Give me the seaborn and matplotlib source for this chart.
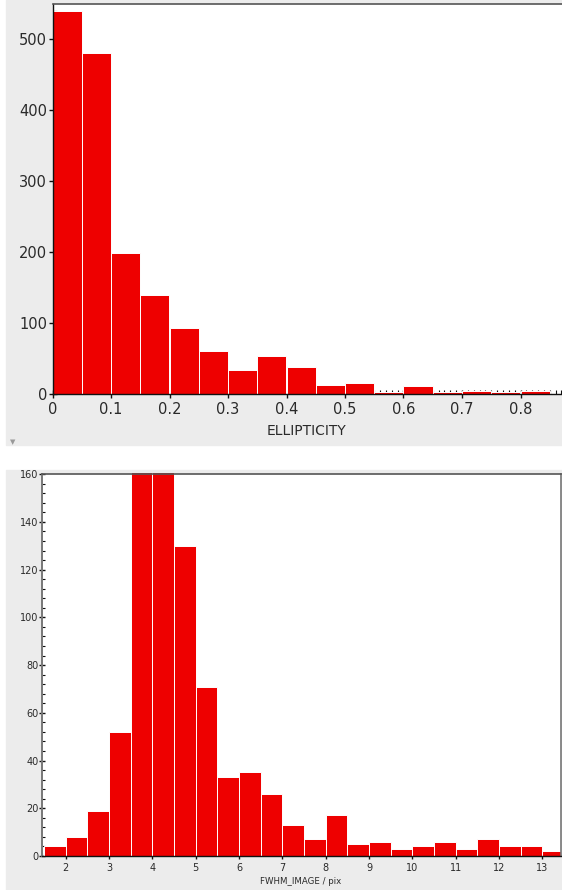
import matplotlib
matplotlib.use("Agg")
import matplotlib.pyplot as plt
from matplotlib.patches import Rectangle
from matplotlib.ticker import MultipleLocator, FixedLocator, FixedFormatter
import seaborn as sns

# Ellipticity histogram (bin width 0.05)
ellip_bin_left = [0.00, 0.05, 0.10, 0.15, 0.20, 0.25, 0.30, 0.35, 0.40,
                  0.45, 0.50, 0.55, 0.60, 0.65, 0.70, 0.75, 0.80]
ellip_counts = [540, 481, 199, 139, 93, 61, 34, 53, 38,
                13, 15, 3, 11, 3, 4, 3, 4]
ellip_ticks = [0.0, 0.1, 0.2, 0.3, 0.4, 0.5, 0.6, 0.7, 0.8]
ellip_tick_labels = ["0", "0.1", "0.2", "0.3", "0.4", "0.5", "0.6", "0.7", "0.8"]
ellip_yticks = [0, 100, 200, 300, 400, 500]

# FWHM histogram (bin width 0.5 pix)
fwhm_bin_left = [1.5, 2.0, 2.5, 3.0, 3.5, 4.0, 4.5, 5.0, 5.5, 6.0, 6.5, 7.0,
                 7.5, 8.0, 8.5, 9.0, 9.5, 10.0, 10.5, 11.0, 11.5, 12.0, 12.5, 13.0]
fwhm_counts = [4, 8, 19, 52, 205, 190, 130, 71, 33, 35, 26, 13,
               7, 17, 5, 6, 3, 4, 6, 3, 7, 4, 4, 2]
fwhm_ticks = [2, 3, 4, 5, 6, 7, 8, 9, 10, 11, 12, 13]
fwhm_yticks = [0, 20, 40, 60, 80, 100, 120, 140, 160]

BAR = "#ee0000"
PANEL = "#ececec"
INK = "#2a2a2a"

sns.set_style("ticks")
plt.rcParams["font.family"] = ["DejaVu Sans"]

W, H = 562, 890
fig = plt.figure(figsize=(W / 100, H / 100), dpi=100, facecolor="white")


def px_box(left, top, right, bottom):
    return [left / W, 1 - bottom / H, (right - left) / W, (bottom - top) / H]


# grey window panels behind each plot
fig.patches.append(Rectangle((5.5 / W, 1 - 445 / H), (W - 5.5) / W, 445 / H,
                             transform=fig.transFigure, color=PANEL, zorder=-10))
fig.patches.append(Rectangle((5.5 / W, 0), (W - 5.5) / W, (H - 470) / H,
                             transform=fig.transFigure, color=PANEL, zorder=-10))


def style_axes(ax, major_len, minor_len, label_size, xpad, ypad):
    ax.set_facecolor("white")
    for side in ["left", "bottom"]:
        ax.spines[side].set_color("#111111")
        ax.spines[side].set_linewidth(1.0)
    for side in ["top", "right"]:
        ax.spines[side].set_color("#555555")
        ax.spines[side].set_linewidth(1.2)
    ax.tick_params(which="major", direction="inout", length=major_len,
                   width=1.0, color="#111111", labelsize=label_size,
                   labelcolor=INK)
    ax.tick_params(which="minor", direction="in", length=minor_len,
                   width=0.8, color="#111111")
    ax.tick_params(axis="x", which="major", pad=xpad)
    ax.tick_params(axis="y", which="major", pad=ypad)
    ax.set_ylabel("")


# ---- top: ellipticity ----
L1, T1, R1, B1 = 52.5, 4.5, 575, 394
ax1 = fig.add_axes(px_box(L1, T1, R1, B1))
bw1 = 0.05
sns.histplot(x=ellip_bin_left, weights=ellip_counts,
             bins=ellip_bin_left + [ellip_bin_left[-1] + bw1],
             color=BAR, edgecolor="white", linewidth=0.7, alpha=1, ax=ax1)
ax1.set_xlim(0, (R1 - L1) / 585.0)
ax1.set_ylim(0, 549)
ax1.xaxis.set_major_locator(FixedLocator(ellip_ticks))
ax1.xaxis.set_major_formatter(FixedFormatter(ellip_tick_labels))
ax1.xaxis.set_minor_locator(MultipleLocator(0.01))
ax1.yaxis.set_major_locator(FixedLocator(ellip_yticks))
ax1.yaxis.set_minor_locator(MultipleLocator(10))
style_axes(ax1, major_len=6, minor_len=3, label_size=10.5, xpad=3, ypad=1)
ax1.set_xlabel("ELLIPTICITY", fontsize=10, color=INK)
ax1.xaxis.set_label_coords((306 - L1) / (R1 - L1), -(424 - B1) / (B1 - T1))
fig.text(13 / W, 1 - 442 / H, "\u25BC", fontsize=5, color="#999999",
         ha="center", va="center")

# ---- bottom: FWHM ----
L2, T2, R2, B2 = 42, 473.5, 561, 856
ax2 = fig.add_axes(px_box(L2, T2, R2, B2))
bw2 = 0.5
sns.histplot(x=fwhm_bin_left, weights=fwhm_counts,
             bins=fwhm_bin_left + [fwhm_bin_left[-1] + bw2],
             color=BAR, edgecolor="white", linewidth=0.7, alpha=1, ax=ax2)
ax2.set_xlim(1.45, 13.43)
ax2.set_ylim(0, 160.3)
ax2.xaxis.set_major_locator(FixedLocator(fwhm_ticks))
ax2.xaxis.set_minor_locator(MultipleLocator(0.1))
ax2.yaxis.set_major_locator(FixedLocator(fwhm_yticks))
ax2.yaxis.set_minor_locator(MultipleLocator(4))
style_axes(ax2, major_len=4, minor_len=2.5, label_size=7, xpad=3, ypad=0.5)
ax2.spines["left"].set_color("#777777")
ax2.spines["left"].set_linewidth(1.4)
ax2.spines["right"].set_color("#777777")
ax2.set_xlabel("FWHM_IMAGE / pix", fontsize=6.2, color=INK)
ax2.xaxis.set_label_coords((301 - L2) / (R2 - L2), -(877 - B2) / (B2 - T2))

fig.savefig("out.png", dpi=100, facecolor="white")
